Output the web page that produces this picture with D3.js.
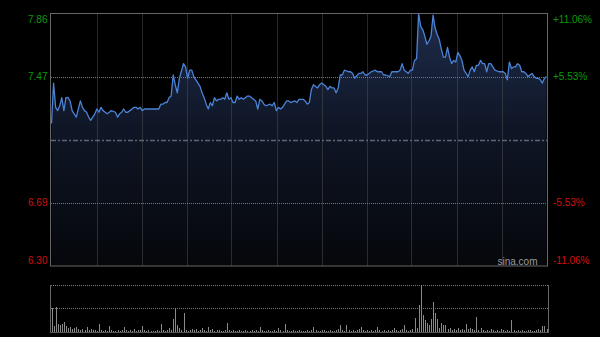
<!DOCTYPE html>
<html><head><meta charset="utf-8">
<script src="https://cdn.jsdelivr.net/npm/d3@7"></script>
<style>body{margin:0;background:#000}svg{display:block}text{font-family:"Liberation Sans",Arial,sans-serif}</style>
</head><body><svg id="c" width="600" height="337"></svg>
<script>
const minutes=[0,1,2,3,4,5,6,7,8,9,10,11,12,13,14,15,16,17,18,19,20,21,22,23,24,25,26,27,28,29,31,32,33,34,35,36,37,38,39,40,41,42,43,44,45,48,52,53,54,55,56,57,58,59,60,61,62,64,65,66,67,68,69,70,71,72,73,74,75,76,77,78,79,80,81,82,83,84,85,86,87,88,89,90,91,92,93,94,95,96,97,99,100,101,102,103,104,106,107,108,109,110,111,112,113,114,115,116,118,119,120,122,123,124,125,126,127,129,130,131,133,134,135,136,137,138,139,140,141,142,144,145,146,147,149,150,151,152,153,154,155,157,158,159,160,161,162,164,165,166,168,169,170,171,172,173,174,175,176,177,178,179,180,181,182,183,184,185,186,187,188,189,190,191,192,193,194,195,196,197,198,199,200,201,202,203,204,205,206,207,208,209,210,211,212,213,214,215,217,218,219,220,221,222,223,224,225,226,227,228,229,230,231,232,233,234,235,236,237,238,239,240];
const prices=[7.18,7.43,7.28,7.26,7.29,7.34,7.26,7.34,7.34,7.32,7.26,7.24,7.22,7.27,7.32,7.28,7.26,7.25,7.22,7.20,7.22,7.24,7.27,7.25,7.28,7.26,7.25,7.24,7.25,7.26,7.25,7.22,7.24,7.25,7.27,7.25,7.25,7.26,7.27,7.28,7.28,7.27,7.28,7.26,7.27,7.27,7.27,7.30,7.30,7.31,7.31,7.34,7.35,7.48,7.42,7.37,7.46,7.55,7.53,7.46,7.51,7.51,7.47,7.45,7.43,7.41,7.37,7.34,7.30,7.27,7.31,7.29,7.34,7.32,7.33,7.33,7.34,7.33,7.37,7.33,7.34,7.31,7.31,7.35,7.33,7.34,7.33,7.34,7.35,7.35,7.34,7.32,7.27,7.33,7.32,7.30,7.29,7.30,7.29,7.31,7.26,7.28,7.27,7.28,7.30,7.32,7.32,7.31,7.32,7.31,7.33,7.33,7.32,7.30,7.31,7.39,7.42,7.40,7.42,7.43,7.41,7.39,7.41,7.40,7.40,7.37,7.40,7.48,7.48,7.51,7.50,7.50,7.49,7.46,7.49,7.49,7.50,7.48,7.48,7.49,7.50,7.51,7.50,7.50,7.50,7.48,7.48,7.47,7.50,7.50,7.50,7.51,7.55,7.51,7.50,7.49,7.51,7.51,7.57,7.58,7.86,7.78,7.76,7.72,7.67,7.69,7.72,7.85,7.77,7.73,7.70,7.64,7.59,7.59,7.65,7.59,7.55,7.57,7.56,7.62,7.60,7.57,7.51,7.49,7.47,7.51,7.53,7.50,7.54,7.54,7.57,7.55,7.55,7.50,7.55,7.55,7.53,7.51,7.50,7.50,7.50,7.49,7.45,7.56,7.52,7.53,7.53,7.55,7.54,7.50,7.50,7.49,7.47,7.48,7.49,7.47,7.46,7.46,7.45,7.43,7.46,7.47];
const volumes=[24,6,25,8,7,8,10,6,4,5,3,4,5,3,2,3,2,5,2,3,2,2,1,8,2,1,2,1,6,2,1,1,2,1,2,5,2,1,2,1,3,1,2,2,6,2,1,2,1,1,1,2,1,8,2,1,2,4,2,13,24,7,4,2,19,2,1,2,3,2,3,1,2,4,2,1,5,2,3,1,2,2,1,1,2,9,2,1,2,1,1,2,1,1,2,1,1,2,1,2,1,5,2,1,1,2,1,1,2,1,4,2,1,8,2,1,1,2,1,1,2,1,1,1,2,1,2,5,2,1,1,2,2,1,1,2,1,1,2,3,7,2,1,7,2,1,2,1,2,3,5,2,1,2,1,2,1,2,5,2,1,2,1,2,1,2,4,2,1,2,3,7,2,1,2,3,14,4,27,47,17,12,9,7,13,30,19,13,4,9,7,7,3,4,2,3,2,4,2,3,2,8,3,4,3,2,15,2,4,2,1,2,1,3,2,1,2,1,3,2,1,2,1,12,2,1,2,1,2,1,1,2,2,1,1,2,3,2,6,6,3];
const priceTicks=[7.86,7.47,6.69,6.30];
const priceLabels=["7.86","7.47","6.69","6.30"];
const pctLabels=["+11.06%","+5.53%","-5.53%","-11.06%"];
const prevClose=7.08;
const priceDomain=[6.30,7.86];
const totalMinutes=240;
const gridCount=11;

const svg=d3.select("#c");
const x=d3.scaleLinear().domain([0,totalMinutes]).range([51.5,546.5]);
const y=d3.scaleLinear().domain(priceDomain).range([266,13.5]);
const yv=d3.scaleLinear().domain([0,d3.max(volumes)]).range([332,285]);

const defs=svg.append("defs");
const g=defs.append("linearGradient").attr("id","fillg").attr("gradientUnits","userSpaceOnUse")
  .attr("x1",0).attr("y1",13).attr("x2",0).attr("y2",266);
g.append("stop").attr("offset","0%").attr("stop-color","#1e2c4c");
g.append("stop").attr("offset","45%").attr("stop-color","#0f1626");
g.append("stop").attr("offset","100%").attr("stop-color","#05070b");

const pts=minutes.map((m,i)=>[m,prices[i]]);
svg.append("path").datum(pts).attr("fill","url(#fillg)")
  .attr("d",d3.area().x(d=>x(d[0])).y0(266).y1(d=>y(d[1])));

// vertical grid
const gx=d3.range(1,gridCount).map(k=>k*totalMinutes/gridCount);
svg.selectAll(".vg").data(gx).enter().append("line")
  .attr("x1",d=>Math.round(x(d))+0.5).attr("x2",d=>Math.round(x(d))+0.5)
  .attr("y1",13.5).attr("y2",266).attr("stroke","#505050").attr("stroke-dasharray","1,1");
// horizontal grid
svg.selectAll(".hg").data([priceTicks[1],priceTicks[2]]).enter().append("line")
  .attr("x1",51).attr("x2",547).attr("y1",d=>Math.round(y(d))+0.5).attr("y2",d=>Math.round(y(d))+0.5)
  .attr("stroke","#777").attr("stroke-dasharray","1,1");
// prev close
svg.append("line").attr("x1",51).attr("x2",547).attr("y1",Math.round(y(prevClose))+0.5).attr("y2",Math.round(y(prevClose))+0.5)
  .attr("stroke","#5d6572").attr("stroke-width",1.6).attr("stroke-dasharray","5,2,2,2");

svg.append("path").datum(pts).attr("fill","none").attr("stroke","#4b83d6").attr("stroke-width",1.3)
  .attr("stroke-linejoin","round")
  .attr("d",d3.line().x(d=>x(d[0])).y(d=>y(d[1])));

// border
svg.append("rect").attr("x",50.5).attr("y",13.5).attr("width",497).attr("height",252.5)
  .attr("fill","none").attr("stroke","#666");

// labels
const off=(i)=> i===0?9.3:(i===priceTicks.length-1?-2:3.5);
svg.selectAll(".ll").data(priceTicks).enter().append("text")
  .attr("x",47.5).attr("y",(d,i)=>y(d)+off(i)).attr("text-anchor","end")
  .attr("font-size",10).attr("fill",d=>d>prevClose?"#0a9a0a":"#d01010").text((d,i)=>priceLabels[i]);
svg.selectAll(".rl").data(priceTicks).enter().append("text")
  .attr("x",553).attr("y",(d,i)=>y(d)+off(i)).attr("text-anchor","start")
  .attr("font-size",10).attr("fill",d=>d>prevClose?"#0a9a0a":"#d01010").text((d,i)=>pctLabels[i]);
svg.append("text").attr("x",537.5).attr("y",265).attr("text-anchor","end").attr("font-size",10)
  .attr("fill","#9a9a9a").text("sina.com");

// volume panel
svg.append("line").attr("x1",51).attr("x2",548).attr("y1",285.5).attr("y2",285.5).attr("stroke","#777").attr("stroke-dasharray","1,1");
svg.append("line").attr("x1",51).attr("x2",548).attr("y1",308.5).attr("y2",308.5).attr("stroke","#777").attr("stroke-dasharray","1,1");
svg.selectAll(".vb").data(volumes).enter().append("rect")
  .attr("x",(d,i)=>Math.round(x(i))).attr("width",1)
  .attr("y",d=>yv(d)).attr("height",d=>332-yv(d)).attr("fill","#8a8a8a");
svg.append("line").attr("x1",50.5).attr("x2",50.5).attr("y1",285).attr("y2",333).attr("stroke","#666");
svg.append("line").attr("x1",548.5).attr("x2",548.5).attr("y1",285).attr("y2",333).attr("stroke","#666");
svg.append("line").attr("x1",50.5).attr("x2",548.5).attr("y1",332.5).attr("y2",332.5).attr("stroke","#555");
</script></body></html>
